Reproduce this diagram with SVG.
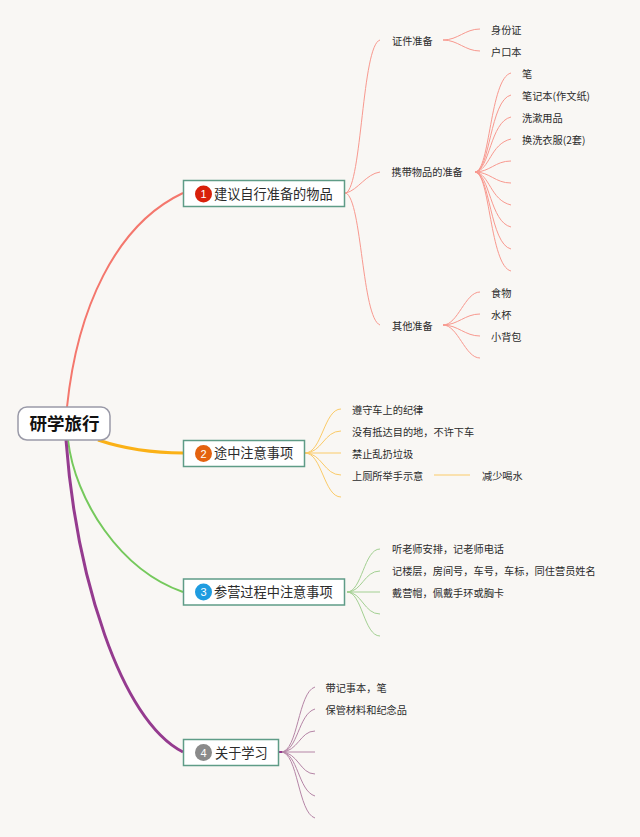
<svg xmlns="http://www.w3.org/2000/svg" width="640" height="837" viewBox="0 0 640 837">
<style>
text{font-family:"Noto Sans CJK SC","Noto Sans",sans-serif;fill:#2b2b2b}
.t{font-size:10.2px}
.n{font-size:13.2px}
.r{font-size:17.5px;font-weight:700;fill:#111}
.b{fill:#fff;stroke:#5f9c87;stroke-width:1.5}
.num{font-family:"Liberation Sans",sans-serif;font-size:11px;fill:#fff;text-anchor:middle}
#connectors path{fill:none}
.red{stroke:#f8998f;stroke-width:1}
.yel{stroke:#fbcb68;stroke-width:1}
.gre{stroke:#a3d092;stroke-width:1}
.pur{stroke:#b585a6;stroke-width:1}
</style>
<rect width="640" height="837" fill="#f9f7f4"/>
<g id="connectors">
<path d="M67 407C77 310 115 225 183 193" stroke="#f4776d" stroke-width="2"/>
<path d="M98 440C125 449 150 453 183 453" stroke="#fbb116" stroke-width="3"/>
<path d="M68 440C75 500 120 570 183 592" stroke="#75c95c" stroke-width="2"/>
<path d="M66 440C76 575 120 720 183 752" stroke="#953b8f" stroke-width="3"/>
<g class="red">
<path d="M344 193H346C362 185 362 45 380 40"/>
<path d="M344 193H346C358 190 366 174 380 172"/>
<path d="M344 193H346C362 201 362 318 380 325"/>
<path d="M443 40C458 40 465 29 480 29"/>
<path d="M443 40C458 40 465 51 480 51"/>
<path d="M475 172C490 172 490 78 511 73"/>
<path d="M475 172C490 172 490 100 511 95"/>
<path d="M475 172C490 170 490 122 511 117"/>
<path d="M475 172C490 170 490 144 511 139"/>
<path d="M475 172C490 172 495 161 511 161"/>
<path d="M475 172C490 172 495 183 511 183"/>
<path d="M475 172C490 174 490 200 511 205"/>
<path d="M475 172C490 174 490 222 511 227"/>
<path d="M475 172C490 174 490 244 511 249"/>
<path d="M475 172C490 172 490 266 511 271"/>
<path d="M443 325C458 325 465 292 480 292"/>
<path d="M443 325C458 325 465 314 480 314"/>
<path d="M443 325C458 325 465 336 480 336"/>
<path d="M443 325C458 325 465 358 480 358"/>
</g>
<g class="yel">
<path d="M305 453C322 453 324 409 341 409"/>
<path d="M305 453C322 453 324 431 341 431"/>
<path d="M305 453H341"/>
<path d="M305 453C322 453 324 475 341 475"/>
<path d="M305 453C322 453 324 497 341 497"/>
<path d="M434 475H470"/>
</g>
<g class="gre">
<path d="M347 592C362 592 364 549 380 549"/>
<path d="M347 592C362 592 364 571 380 571"/>
<path d="M347 592H380"/>
<path d="M347 592C362 592 364 614 380 614"/>
<path d="M347 592C362 592 364 636 380 636"/>
</g>
<g class="pur">
<path d="M281 752C298 752 298 692 315 687"/>
<path d="M281 752C298 752 298 714 315 709"/>
<path d="M281 752C298 752 300 731 315 731"/>
<path d="M281 752H315"/>
<path d="M281 752C298 752 300 774 315 774"/>
<path d="M281 752C298 752 298 791 315 796"/>
<path d="M281 752C298 752 298 813 315 818"/>
</g>
<path d="M278 752H282" stroke="#953b8f" stroke-width="2"/>
</g>
<g id="root"><rect x="18" y="407" width="92" height="33" rx="9" fill="#fff" stroke="#9a9aa8" stroke-width="1.5"/><text class="r" x="29.5" y="430">研学旅行</text></g>
<g id="n1"><rect class="b" x="183.500" y="180.500" width="161" height="26"/><circle cx="203.500" cy="194" r="8.500" fill="#d8200a"/><text class="num" x="203.500" y="198">1</text><text class="n" x="214" y="199">建议自行准备的物品</text></g>
<g id="n2"><rect class="b" x="183.500" y="440.500" width="121" height="26"/><circle cx="203.500" cy="453.500" r="8.500" fill="#e4620f"/><text class="num" x="203.500" y="457.500">2</text><text class="n" x="214" y="458">途中注意事项</text></g>
<g id="n3"><rect class="b" x="183.500" y="579" width="161" height="26"/><circle cx="203.500" cy="592" r="8.500" fill="#1f9ce0"/><text class="num" x="203.500" y="596">3</text><text class="n" x="214" y="597">参营过程中注意事项</text></g>
<g id="n4"><rect class="b" x="183.500" y="739.500" width="95" height="26"/><circle cx="203.500" cy="752.500" r="8.500" fill="#8a8a8a"/><text class="num" x="203.500" y="756.500">4</text><text class="n" x="215" y="758">关于学习</text></g>
<g id="labels">
<text class="t" x="392" y="45">证件准备</text>
<text class="t" x="491" y="34">身份证</text>
<text class="t" x="491" y="56">户口本</text>
<text class="t" x="391.500" y="176">携带物品的准备</text>
<text class="t" x="522" y="78">笔</text>
<text class="t" x="522" y="100">笔记本(作文纸)</text>
<text class="t" x="522" y="122">洗漱用品</text>
<text class="t" x="522" y="144">换洗衣服(2套)</text>
<text class="t" x="392" y="330">其他准备</text>
<text class="t" x="491" y="297">食物</text>
<text class="t" x="491" y="319">水杯</text>
<text class="t" x="491" y="341">小背包</text>
<text class="t" x="352" y="414">遵守车上的纪律</text>
<text class="t" x="352" y="436">没有抵达目的地，不许下车</text>
<text class="t" x="352" y="458">禁止乱扔垃圾</text>
<text class="t" x="352" y="480">上厕所举手示意</text>
<text class="t" x="482" y="480">减少喝水</text>
<text class="t" x="392" y="553">听老师安排，记老师电话</text>
<text class="t" x="392" y="575">记楼层，房间号，车号，车标，同住营员姓名</text>
<text class="t" x="392" y="597">戴营帽，佩戴手环或胸卡</text>
<text class="t" x="325.500" y="692">带记事本，笔</text>
<text class="t" x="325.500" y="714">保管材料和纪念品</text>
</g>
</svg>
